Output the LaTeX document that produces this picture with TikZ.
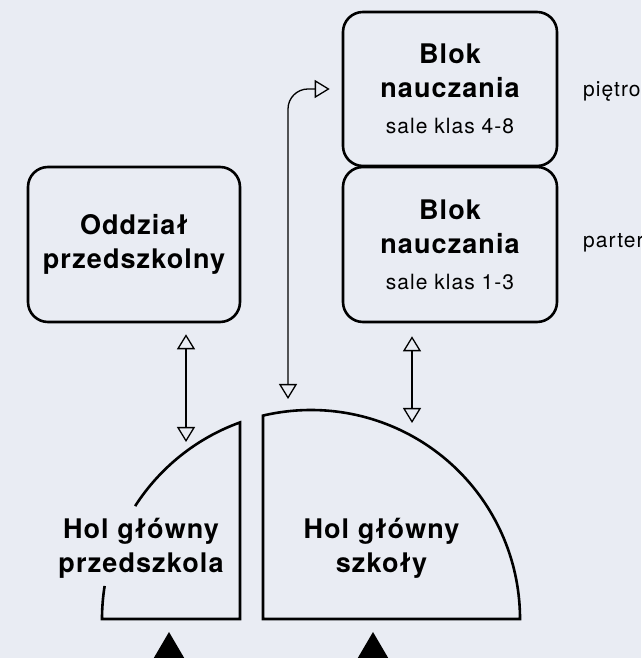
\documentclass[tikz,border=0pt]{standalone}
\usepackage{fontspec}
\usetikzlibrary{arrows.meta,calc}
\newfontfamily\heros[LetterSpace=4]{TeX Gyre Heros}
\newfontfamily\herosl[LetterSpace=5]{TeX Gyre Heros}
\definecolor{bg}{RGB}{233,236,243}
\begin{document}
\begin{tikzpicture}[x=1pt,y=1pt,
  box/.style={draw=black, line width=2.6pt, rounded corners=20pt, minimum width=212pt, minimum height=155pt, align=center, inner sep=0pt},
  title/.style={font=\heros\bfseries\fontsize{27}{34}\selectfont},
  small/.style={font=\herosl\fontsize{21}{25}\selectfont},
  conn/.style={line width=1.3pt, {Triangle[open,length=15pt,width=18pt]}-{Triangle[open,length=15pt,width=18pt]}},
  hall/.style={line width=2.6pt, line join=miter},
  lbl/.style={small, anchor=base west, inner sep=0pt}
]
\fill[bg] (0,0) rectangle (641,658);
\useasboundingbox (0,0) rectangle (641,658);

% boxes
\node[box, title] (odd) at (134,413.5) {Oddział\\przedszkolny};
\node[box, title, minimum width=214pt, minimum height=154pt] (b2) at (450,569)
  {Blok\\nauczania\\[2pt]{\herosl\mdseries\fontsize{21}{25}\selectfont sale klas 4-8}};
\node[box, title, minimum width=214pt, minimum height=155pt] (b1) at (450,413.5)
  {Blok\\nauczania\\[2pt]{\herosl\mdseries\fontsize{21}{25}\selectfont sale klas 1-3}};

% side labels
\node[lbl] (pie) at (583,561) {piętro};
\node[lbl] (par) at (583,410) {parter};

% halls
\coordinate (C) at (311,39);
\draw[hall] ($(C)+(170.9:209pt)$) arc[start angle=170.9, end angle=180, radius=209pt]
  -- (240,39) -- ($(C)+(109.86:209pt)$) arc[start angle=109.86, end angle=147.3, radius=209pt];
\draw[hall] (263,39) -- ($(C)+(103.28:209pt)$) arc[start angle=103.28, end angle=0, radius=209pt] -- cycle;
\node[title, align=center] (hp) at (141,110) {Hol główny\\przedszkola};
\node[title, align=center] (hs) at (381.5,110) {Hol główny\\szkoły};

% connectors
\coordinate (a1b) at (186,216);
\draw[conn] ($(odd.south -| a1b)+(0,-11)$) -- (a1b);
\coordinate (a2b) at (412,235);
\draw[conn] ($(b1.south -| a2b)+(0,-13)$) -- (a2b);
\coordinate (a3b) at (288,259);
\draw[conn, rounded corners=20pt] (a3b) |- ($(b2.west)+(-12,0)$);

% entrances
\fill (169,26) -- (145,-15) -- (193,-15) -- cycle;
\fill (373,26) -- (349,-15) -- (397,-15) -- cycle;
\end{tikzpicture}
\end{document}
